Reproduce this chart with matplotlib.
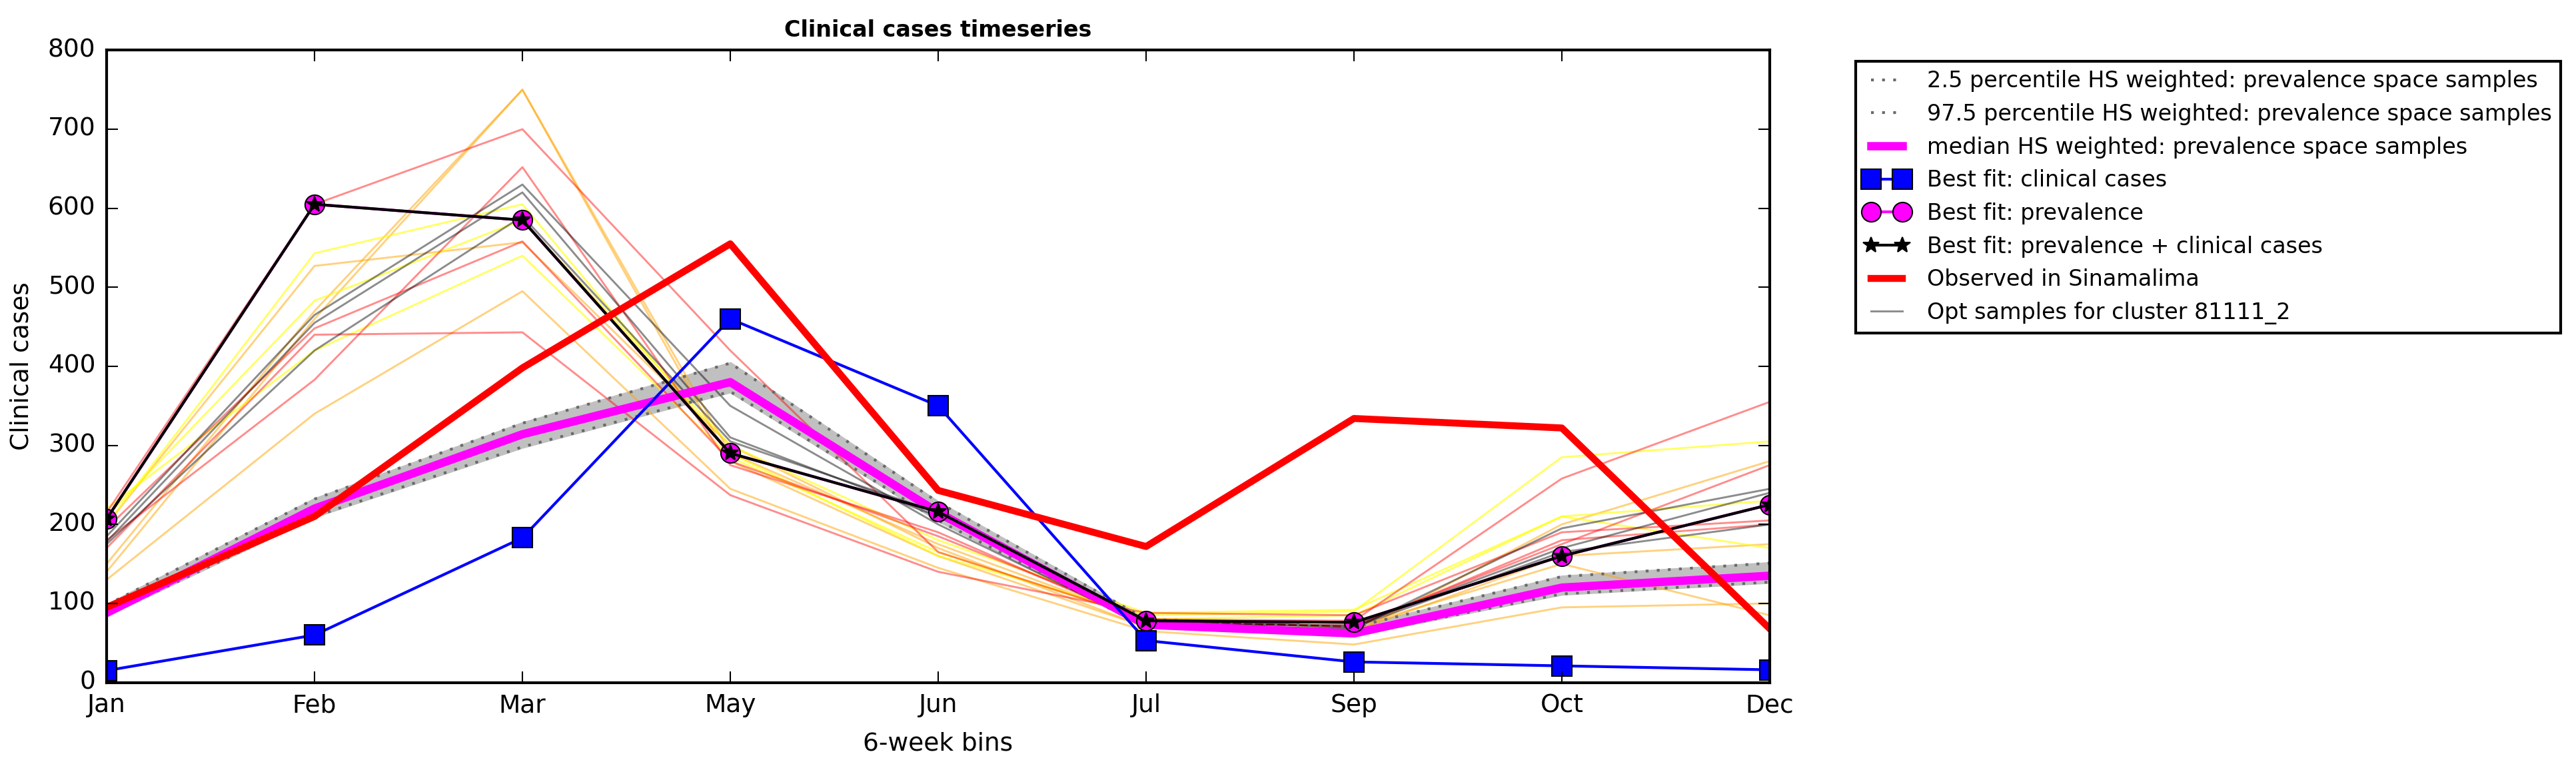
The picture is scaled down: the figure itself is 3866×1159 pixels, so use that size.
import matplotlib
matplotlib.use('Agg')
import matplotlib.pyplot as plt

months = ['Jan', 'Feb', 'Mar', 'May', 'Jun', 'Jul', 'Sep', 'Oct', 'Dec']

p025 = [85, 210, 298, 368, 205, 70, 60, 112, 127]
p975 = [98, 232, 328, 404, 228, 80, 70, 134, 151]
median = [88, 220, 314, 380, 215, 73, 62, 120, 135]
best_clinical = [15, 60, 183, 460, 350, 53, 26, 21, 16]
best_prev = [207, 605, 585, 290, 216, 78, 76, 160, 225]
best_both = [207, 605, 585, 290, 216, 78, 76, 160, 225]
observed = [95, 210, 398, 555, 243, 172, 334, 322, 68]

sample_gray = [
    [185, 465, 630, 350, 200, 72, 68, 195, 245],
    [178, 455, 620, 310, 210, 75, 72, 170, 240],
    [175, 420, 590, 305, 215, 78, 70, 165, 200],
]
sample_red = [
    [215, 605, 700, 420, 165, 80, 78, 258, 355],
    [170, 440, 443, 237, 140, 88, 85, 190, 205],
    [195, 448, 558, 280, 185, 80, 70, 180, 200],
    [180, 383, 652, 275, 190, 75, 72, 175, 275],
]
sample_orange = [
    [140, 460, 750, 280, 160, 70, 62, 200, 280],
    [130, 340, 495, 245, 145, 65, 48, 95, 100],
    [200, 527, 557, 300, 170, 70, 65, 160, 175],
    [150, 470, 750, 290, 175, 78, 70, 150, 85],
]
sample_yellow = [
    [200, 543, 605, 290, 160, 85, 90, 285, 305],
    [210, 483, 585, 300, 180, 88, 92, 210, 230],
    [220, 420, 540, 285, 165, 80, 85, 210, 170],
]


def main():
    plt.style.use('classic')
    plt.rcParams['font.family'] = ['DejaVu Sans']
    fig = plt.figure(figsize=(3866 / 300, 1159 / 300), dpi=300, facecolor='white')
    ax = fig.add_axes([0.0414, 0.116, 0.6456, 0.819])
    x = list(range(len(months)))

    for s in sample_orange:
        ax.plot(x, s, color='orange', alpha=0.5, lw=0.7)
    for s in sample_yellow:
        ax.plot(x, s, color='yellow', alpha=0.6, lw=0.7)
    for s in sample_red:
        ax.plot(x, s, color='red', alpha=0.45, lw=0.7)
    for i, s in enumerate(sample_gray):
        ax.plot(x, s, color='black', alpha=0.45, lw=0.7,
                label='Opt samples for cluster 81111_2' if i == 0 else None)

    ax.fill_between(x, p025, p975, color='silver')
    ax.plot(x, p025, color='dimgray', ls=':', lw=1,
            label='2.5 percentile HS weighted: prevalence space samples')
    ax.plot(x, p975, color='dimgray', ls=':', lw=1,
            label='97.5 percentile HS weighted: prevalence space samples')
    ax.plot(x, median, color='magenta', lw=3,
            label='median HS weighted: prevalence space samples')
    ax.plot(x, best_clinical, color='blue', marker='s', ms=7,
            label='Best fit: clinical cases')
    ax.plot(x, best_prev, color='magenta', marker='o', ms=7,
            label='Best fit: prevalence')
    ax.plot(x, best_both, color='black', marker='*', ms=6,
            label='Best fit: prevalence + clinical cases')
    ax.plot(x, observed, color='red', lw=2.5, label='Observed in Sinamalima')

    ax.set_xlim(0, len(months) - 1)
    ax.set_ylim(0, 800)
    ax.set_xticks(x)
    ax.set_xticklabels(months)
    ax.tick_params(labelsize=9)
    ax.set_xlabel('6-week bins', fontsize=9)
    ax.set_ylabel('Clinical cases', fontsize=9)
    ax.set_title('Clinical cases timeseries', fontsize=8, fontweight='bold')

    handles, labels = ax.get_legend_handles_labels()
    order = labels.index('Opt samples for cluster 81111_2')
    handles = handles[:order] + handles[order + 1:] + [handles[order]]
    labels = labels[:order] + labels[order + 1:] + [labels[order]]
    ax.legend(handles, labels, loc='upper left', bbox_to_anchor=(1.045, 1.0),
              fontsize=8, numpoints=2)

    fig.savefig('out.png', dpi=300)


if __name__ == '__main__':
    main()
